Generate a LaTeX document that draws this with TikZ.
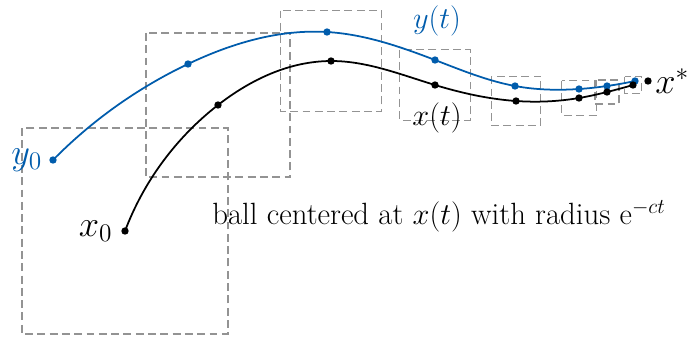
\documentclass[tikz,border=0pt]{standalone}
\usepackage{amsmath,amssymb}
\usepackage{xcolor}
\usepackage{tikz}
\usetikzlibrary{positioning,calc,hobby}
\definecolor{trajblue}{RGB}{0,92,172}

\begin{document}
\begin{tikzpicture}[
    x=0.02cm, y=-0.02cm,
    ball/.style={draw=gray!85, dash pattern=on 4.5pt off 2.5pt, line width=0.8pt},
    traj/.style={line width=1pt, use Hobby shortcut},
    dot/.style={circle, fill, inner sep=0pt, minimum size=4.2pt},
    lbl/.style={font=\fontsize{17.5}{21}\selectfont, inner sep=1pt},
    endlbl/.style={font=\fontsize{21.5}{25}\selectfont, inner sep=1pt}
]
\useasboundingbox (0,0) rectangle (696,336);

% points of x(t)
\coordinate (x0) at (125,231);
\coordinate (x1) at (218,105);
\coordinate (x2) at (331,61);
\coordinate (x3) at (435,85);
\coordinate (x4) at (516,101);
\coordinate (x5) at (579,98);
\coordinate (x6) at (607,92);
\coordinate (x7) at (633,85);
% points of y(t)
\coordinate (y0) at (53,160);
\coordinate (y1) at (188,64);
\coordinate (y2) at (327,32);
\coordinate (y3) at (435,60);
\coordinate (y4) at (515,86);
\coordinate (y5) at (579,89);
\coordinate (y6) at (607,86);
\coordinate (y7) at (635,81);
\coordinate (xs) at (648,81);

% balls around x(t)
\foreach \p [count=\k from 0] in {x0,x1,x2,x3,x4,x5,x6,x7} {
    \pgfmathsetmacro\r{103*0.7^\k}
    \draw[ball] (\p) ++(-\r,-\r) rectangle ++(2*\r,2*\r);
}

\draw[traj, trajblue] (y0) .. (y1) .. (y2) .. (y3) .. (y4) .. (y5) .. (y6) .. (y7);
\draw[traj] (x0) .. (x1) .. (x2) .. (x3) .. (x4) .. (x5) .. (x6) .. (x7);

\foreach \p in {y0,y1,y2,y3,y4,y5,y6,y7}
    \node[dot, trajblue] at (\p) {};
\foreach \p in {x0,x1,x2,x3,x4,x5,x6,x7,xs}
    \node[dot] at (\p) {};

\node[endlbl, trajblue, left=5pt of y0] (ly0) {$y_0$};
\node[endlbl, left=6pt of x0] (lx0) {$x_0$};
\node[lbl, trajblue] (lyt) at (437,21) {$y(t)$};
\node[lbl] (lxt) at (437,118) {$x(t)$};
\node[endlbl, right=3pt of xs] (lxs) {$x^*$};
\node[lbl] (note) at (439,216) {ball centered at $x(t)$ with radius $\mathrm{e}^{-ct}$};
\end{tikzpicture}
\end{document}
